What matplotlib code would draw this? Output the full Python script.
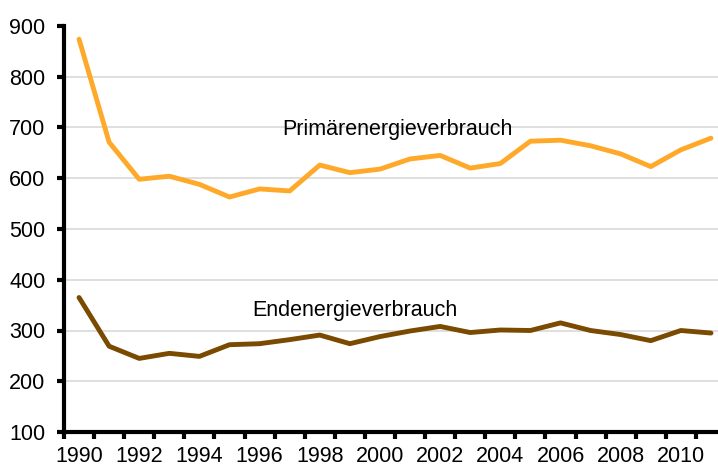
import matplotlib

matplotlib.use("Agg")
import matplotlib.pyplot as plt
import numpy as np

years = list(range(1990, 2012))
primaer = [874, 671, 598, 604, 588, 563, 579, 575, 626, 611, 618,
           638, 645, 620, 629, 673, 675, 664, 648, 623, 656, 679]
endenergie = [365, 269, 245, 255, 249, 272, 274, 282, 291, 274, 288,
              299, 308, 296, 301, 300, 315, 300, 292, 280, 300, 295]
year_labels = [str(y) if y % 2 == 0 else "" for y in years]

plt.rcParams["font.family"] = ["Liberation Sans", "DejaVu Sans"]

fig = plt.figure(figsize=(7.18, 4.66), dpi=100)
ax = fig.add_axes([64 / 718, 34 / 466, 662 / 718, 406 / 466])

x = np.arange(len(years))
ax.plot(x, primaer, color="#FFA92A", lw=3.5, solid_capstyle="round", zorder=3)
ax.plot(x, endenergie, color="#7A4A00", lw=3.5, solid_capstyle="round", zorder=3)

ax.set_xlim(-0.5, len(years) - 0.5)
ax.set_ylim(100, 900)
ax.set_yticks(range(100, 1000, 100))
ax.set_xticks(x)
ax.set_xticklabels(year_labels)
ax.set_xticks(np.arange(-0.5, len(years), 1.0), minor=True)
ax.tick_params(axis="x", which="major", length=0, pad=10, labelsize=15.5)
ax.tick_params(axis="x", which="minor", length=5, width=3, direction="out")
ax.tick_params(axis="y", length=5, width=3, direction="out", pad=8.5, labelsize=15.5)

for val in range(200, 900, 100):
    ax.axhline(val, color="#d9d9d9", lw=1.2, zorder=1)

for side in ["top", "right"]:
    ax.spines[side].set_visible(False)
ax.spines["left"].set_linewidth(3)
ax.spines["bottom"].set_linewidth(3)

ax.text(6.75, 696, "Primärenergieverbrauch", fontsize=15.5, va="center", ha="left")
ax.text(5.75, 340, "Endenergieverbrauch", fontsize=15.5, va="center", ha="left")

fig.savefig("out.png", dpi=100)
